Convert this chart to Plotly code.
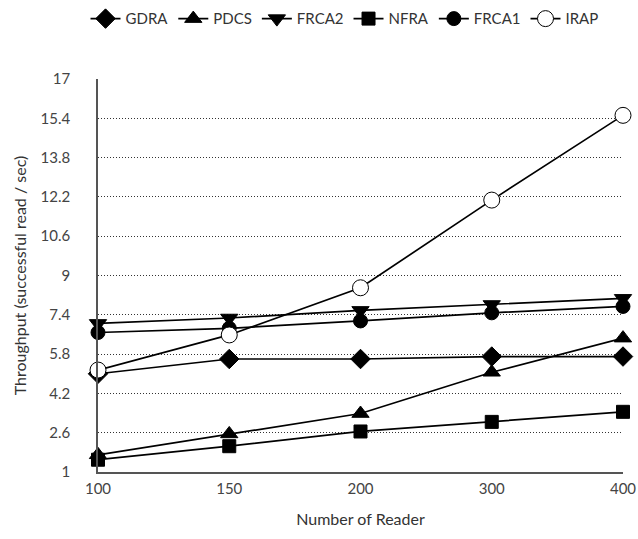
import plotly.graph_objects as go

readers = ["100", "150", "200", "300", "400"]
gdra = [5.0, 5.6, 5.6, 5.7, 5.7]
pdcs = [1.7, 2.55, 3.38, 5.06, 6.45]
frca2 = [7.05, 7.27, 7.58, 7.82, 8.07]
nfra = [1.5, 2.05, 2.65, 3.04, 3.45]
frca1 = [6.68, 6.85, 7.15, 7.48, 7.74]
irap = [5.15, 6.58, 8.5, 12.07, 15.52]
yticks = [1, 2.6, 4.2, 5.8, 7.4, 9, 10.6, 12.2, 13.8, 15.4, 17]

series = [
    ("GDRA", gdra, "diamond", "black", 15),
    ("PDCS", pdcs, "triangle-up", "black", 15),
    ("FRCA2", frca2, "triangle-down", "black", 15),
    ("NFRA", nfra, "square", "black", 13),
    ("FRCA1", frca1, "circle", "black", 14),
    ("IRAP", irap, "circle", "white", 16),
]

fig = go.Figure()
for name, vals, sym, fill, size in series:
    fig.add_trace(go.Scatter(
        x=readers, y=vals, name=name, mode="lines+markers",
        line=dict(color="black", width=1.7),
        marker=dict(symbol=sym, size=size, color=fill,
                    line=dict(color="black", width=1)),
        cliponaxis=False,
    ))

fig.update_layout(
    width=638, height=539,
    margin=dict(l=98, r=15, t=79, b=67, autoexpand=False),
    paper_bgcolor="white", plot_bgcolor="white",
    font=dict(family="Lato", size=14, color="#444"),
    legend=dict(orientation="h", x=0.54, xanchor="center", xref="container",
                y=0.965, yanchor="middle", yref="container",
                font=dict(size=15, color="#333"), itemwidth=30, tracegroupgap=0),
    showlegend=True,
)
fig.update_xaxes(type="category", range=[0, 4], showgrid=False,
                 showline=True, linecolor="#555", linewidth=1.5,
                 ticks="", ticklabelstandoff=2, tickfont=dict(size=15, color="#444"),
                 title=dict(text="Number of Reader", font=dict(size=16, color="#333"), standoff=18))
fig.update_yaxes(range=[1, 17], tickvals=yticks, ticktext=[str(v) for v in yticks],
                 showgrid=True, gridcolor="#333", griddash="1px,2px", gridwidth=1,
                 showline=True, linecolor="#555", linewidth=1.5, zeroline=False,
                 ticks="", ticklabelstandoff=23, tickfont=dict(size=15, color="#444"),
                 title=dict(text="Throughput (successful read / sec)", font=dict(size=16, color="#333"), standoff=10))

fig.write_html("out.html", config={"displayModeBar": False},
               post_script="document.body.style.margin='0';")
